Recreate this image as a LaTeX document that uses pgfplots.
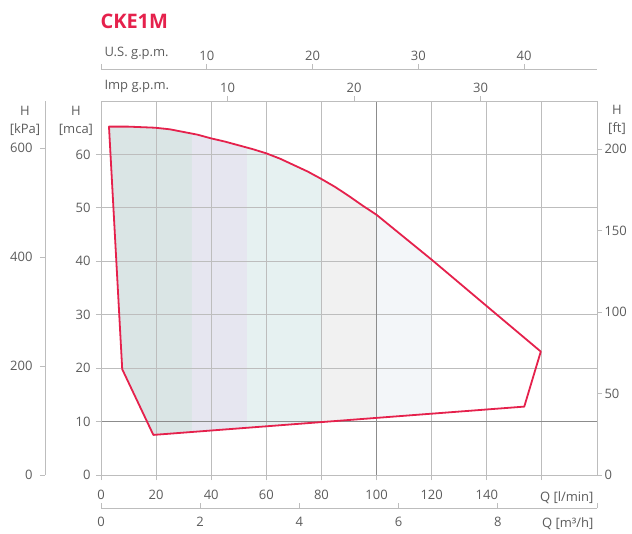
\documentclass[border=0pt]{standalone}
\usepackage{fontspec}
\setmainfont{Open Sans}
\usepackage{pgfplots}
\usepackage{pgfplotstable}
\pgfplotsset{compat=1.18}
\definecolor{txt}{HTML}{5C5C5C}
\definecolor{gridc}{HTML}{BDBDBD}
\definecolor{gridd}{HTML}{8C8C8C}
\definecolor{curve}{HTML}{E5214C}
\definecolor{f1}{HTML}{DAE5E5}
\definecolor{f2}{HTML}{E6E6F0}
\definecolor{f3}{HTML}{E6F1F1}
\definecolor{f4}{HTML}{F1F1F1}
\definecolor{f5}{HTML}{F3F6F9}

\pgfplotstableread{
x y
2.9 65.2
10 65.2
19.6 65.0
25 64.7
30 64.2
35 63.7
40 63.0
45 62.4
50 61.7
55 61.0
60 60.2
65 59.2
70 58.0
75 56.8
80 55.4
85 53.9
90 52.2
95 50.4
100 48.7
120 40.3
140 31.6
159.6 23.1
153.6 12.8
19 7.5
7.7 19.8
}\polytab

\pgfplotsset{
  helper/.style={scale only axis, width=496bp,
    /pgf/number format/assume math mode=true,
    tick label style={text=txt, font=\fontsize{13bp}{15bp}\selectfont},
    axis line style={draw=gridc, line width=0.9bp},
    tick style={draw=gridc, line width=0.9bp},
    major tick length=5bp},
}

\begin{document}
\begin{tikzpicture}[font=\fontsize{13bp}{18bp}\selectfont]

% kPa axis
\begin{axis}[helper, at={(-56bp,0)}, anchor=south west, width=10bp, height=374bp,
  axis y line*=left, axis x line=none, xmin=0, xmax=1, ymin=0, ymax=686.7,
  ytick={0,200,400,600}, tick align=outside, yticklabel style={xshift=-4bp}]
\end{axis}

% main axis
\begin{axis}[helper, at={(0,0)}, anchor=south west, height=374bp, set layers,
  xmin=0, xmax=180, ymin=0, ymax=70,
  xtick={0,20,...,160}, xticklabels={0,20,40,60,80,100,120,140,{}},
  ytick={0,10,...,60},
  xticklabel style={yshift=-7bp}, yticklabel style={xshift=-2bp},
  grid=major, major grid style={draw=gridc, line width=0.9bp},
  xtick pos=left, ytick pos=left, tick align=outside,
  extra x ticks={100}, extra x tick labels={},
  extra y ticks={10}, extra y tick labels={},
  extra tick style={major grid style={draw=gridd, line width=1.2bp}}]
\addplot[on layer=axis background, draw=none, fill=f1] coordinates {(2.9,65.2) (10,65.2) (19.6,65.0) (25,64.7) (30,64.2) (33,63.9) (33,8.05) (19,7.5) (7.7,19.8)} -- cycle;
\addplot[on layer=axis background, draw=none, fill=f2] coordinates {(33,63.9) (35,63.7) (40,63.0) (45,62.4) (50,61.7) (53,61.3) (53,8.84) (33,8.05)} -- cycle;
\addplot[on layer=axis background, draw=none, fill=f3] coordinates {(53,61.3) (55,61.0) (60,60.2) (65,59.2) (70,58.0) (75,56.8) (80,55.4) (80,9.90) (53,8.84)} -- cycle;
\addplot[on layer=axis background, draw=none, fill=f4] coordinates {(80,55.4) (85,53.9) (90,52.2) (95,50.4) (100,48.7) (100,10.69) (80,9.90)} -- cycle;
\addplot[on layer=axis background, draw=none, fill=f5] coordinates {(100,48.7) (120,40.3) (120,11.48) (100,10.69)} -- cycle;
\addplot[draw=curve, line width=1.8bp, line join=round] table {\polytab} -- cycle;
\end{axis}

% Imp gpm axis
\begin{axis}[helper, at={(0,0)}, anchor=south west, height=374bp,
  axis x line*=top, axis y line=none, xmin=0, xmax=39.2, ymin=0, ymax=1,
  xtick={10,20,30}, tick align=outside]
\end{axis}

% US gpm axis
\begin{axis}[helper, at={(0,396bp)}, anchor=south west, height=10bp,
  axis x line*=top, axis y line=none, xmin=0, xmax=46.9, ymin=0, ymax=1,
  xtick={0,10,20,30,40}, xticklabels={{},10,20,30,40}, tick align=outside]
\end{axis}

% m3/h axis
\begin{axis}[helper, at={(0,-33bp)}, anchor=south west, height=10bp,
  axis x line*=bottom, axis y line=none, xmin=0, xmax=10, ymin=0, ymax=1,
  xtick={0,2,...,10}, xticklabels={0,2,4,6,8,{}}, tick align=inside,
  xticklabel style={yshift=-6bp}]
\end{axis}

% ft axis
\begin{axis}[helper, at={(0,0)}, anchor=south west, height=374bp,
  axis y line*=right, axis x line=none, xmin=0, xmax=1, ymin=0, ymax=229.66,
  ytick={0,50,...,200}, tick align=outside, yticklabel style={xshift=-1bp}]
\end{axis}

\node[anchor=west, text=curve, font=\fontsize{20bp}{22bp}\selectfont\bfseries] at (-4bp,454bp) {CKE1M};
\node[anchor=west, text=txt] at (0bp,422bp) {U.S. g.p.m.};
\node[anchor=west, text=txt] at (0bp,389bp) {Imp g.p.m.};
\node[align=center, text=txt] at (-76bp,354bp) {H\\{[kPa]}};
\node[align=center, text=txt] at (-25bp,354bp) {H\\{[mca]}};
\node[align=center, text=txt] at (516bp,355bp) {H\\{[ft]}};
\node[anchor=east, text=txt] at (496bp,-23bp) {Q [l/min]};
\node[anchor=east, text=txt] at (496bp,-49bp) {Q [m³/h]};
\pgfresetboundingbox
\path[use as bounding box] (-101bp,-59bp) rectangle (531bp,475bp);
\end{tikzpicture}
\end{document}
